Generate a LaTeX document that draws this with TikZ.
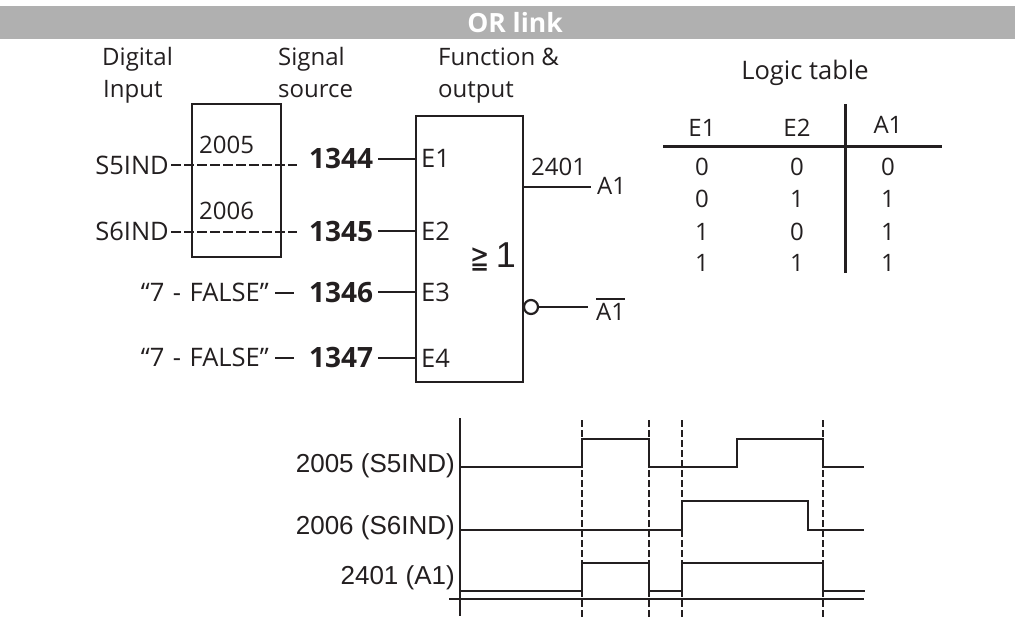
\documentclass[tikz,border=0pt]{standalone}
\usepackage{fontspec}
\setmainfont{Open Sans}
\newfontfamily\arialf{Liberation Sans}
\newfontfamily\symf{DejaVu Sans}
\definecolor{ink}{HTML}{231F20}
\tikzset{
 lbl/.style={font=\fontsize{24}{28}\selectfont,text=ink,inner sep=0pt},
 lblw/.style={font=\fontsize{25.5}{28}\selectfont,text=ink,inner sep=0pt},
 bold/.style={font=\fontsize{28}{30}\selectfont\bfseries,text=ink,inner sep=0pt},
 arl/.style={font=\fontsize{26}{28}\selectfont\arialf,text=ink,inner sep=0pt},
 wire/.style={draw=ink,line width=2.5pt},
 dash wire/.style={wire,dash pattern=on 10pt off 3pt},
 vdash/.style={draw=ink,line width=1.7pt,dash pattern=on 7pt off 3pt},
 wave/.style={draw=ink,line width=2.5pt,line join=miter},
 tabline/.style={draw=ink,line width=3pt}
}
\begin{document}
\begin{tikzpicture}[x=1pt,y=-1pt]
\useasboundingbox (0,0) rectangle (1015,618);
\fill[white] (0,0) rectangle (1015,618);
\fill[black!31] (0,6) rectangle (1015,39);
\node[font=\fontsize{26.5}{28}\selectfont\bfseries,text=white,inner sep=0pt] (title) at (515,23) {OR link};
% headers
\node[lbl,anchor=base west] (h1a) at (102,66) {Digital};
\node[lbl,anchor=base west] (h1b) at (103,98) {Input};
\node[lbl,anchor=base west] (h2a) at (278,66) {Signal};
\node[lbl,anchor=base west] (h2b) at (278,98) {source};
\node[lbl,anchor=base west] (h3a) at (438,66) {Function \&};
\node[lbl,anchor=base west] (h3b) at (438,98) {output};
% boxes
\draw[wire] (192,104) rectangle (281,257);
\draw[wire] (416,116) rectangle (523,382);
\node[lbl,anchor=west] (p1) at (199,145) {2005};
\node[lbl,anchor=west] (p2) at (199,211) {2006};
\node[lblw,anchor=east] (s5) at (169,165) {S5IND};
\node[lblw,anchor=east] (s6) at (169,231) {S6IND};
\coordinate (s5e) at (297,165);
\coordinate (s6e) at (297,232);
\draw[dash wire] (s5.east) ++(2,0) -- (s5e);
\draw[dash wire] (s6.east) ++(2,1) -- (s6e);
\node[lblw,anchor=east] (f1) at (269,292) {“7\,\,-\,\,FALSE”};
\node[lblw,anchor=east] (f2) at (269,357) {“7\,\,-\,\,FALSE”};
\node[bold] (n1) at (341,158) {1344};
\node[bold] (n2) at (341,231) {1345};
\node[bold] (n3) at (341,292) {1346};
\node[bold] (n4) at (341,357) {1347};
\coordinate (f1e) at (294,293);
\coordinate (f2e) at (294,358);
\coordinate (f1s) at (275,293);
\coordinate (f2s) at (275,358);
\draw[wire] (f1s) -- (f1e);
\draw[wire] (f2s) -- (f2e);
\coordinate (e1) at (416,159);
\coordinate (e2) at (416,231);
\coordinate (e3) at (416,292);
\coordinate (e4) at (416,358);
\draw[wire] (378,159) -- (e1);
\draw[wire] (378,231) -- (e2);
\draw[wire] (378,292) -- (e3);
\draw[wire] (378,358) -- (e4);
\node[lblw,anchor=west] (t1) at (421,158) {E1};
\node[lblw,anchor=west] (t2) at (421,231) {E2};
\node[lblw,anchor=west] (t3) at (421,292) {E3};
\node[lblw,anchor=west] (t4) at (421,358) {E4};
\node[font=\fontsize{24}{26}\selectfont\symf,text=ink,inner sep=0pt,xscale=0.95,yscale=1.35,transform shape] (ge) at (480,260) {≧};
\node[font=\fontsize{36}{38}\selectfont\arialf,text=ink,inner sep=0pt] (one) at (506,255) {1};
% outputs
\node[lbl,anchor=west] (o1) at (531,167) {2401};
\node[lbl,anchor=west] (a1) at (597,186) {A1};
\coordinate (o1s) at (523,187);
\coordinate (o1e) at (591,187);
\draw[wire] (o1s) -- (o1e);
\node[circle,draw=ink,line width=2.2pt,fill=white,minimum size=14pt,inner sep=0pt] (bub) at (531,307) {};
\coordinate (o2e) at (588,307);
\draw[wire] (bub.east) -- (o2e);
\node[lbl,anchor=west] (a2) at (596,312) {A1};
\draw[draw=ink,line width=2.2pt] (a2.west |- 0,299) -- (a2.east |- 0,299);
% table
\node[lblw] (lt) at (805,73) {Logic table};
\coordinate (hl) at (663,146);
\coordinate (hr) at (942,146);
\coordinate (vt) at (845,104);
\coordinate (vb) at (845,273);
\draw[tabline] (hl) -- (hr);
\draw[tabline] (vt) -- (vb);
\node[lbl] (c11) at (702,128) {E1};
\node[lbl] (c12) at (797,128) {E2};
\node[lbl] (c13) at (888,125) {A1};
\node[lbl] (r11) at (702,167) {0};
\node[lbl] (r12) at (797,167) {0};
\node[lbl] (r13) at (888,167) {0};
\node[lbl] (r21) at (702,199) {0};
\node[lbl] (r22) at (797,199) {1};
\node[lbl] (r23) at (888,199) {1};
\node[lbl] (r31) at (702,232) {1};
\node[lbl] (r32) at (797,232) {0};
\node[lbl] (r33) at (888,232) {1};
\node[lbl] (r41) at (702,263) {1};
\node[lbl] (r42) at (797,263) {1};
\node[lbl] (r43) at (888,263) {1};
% timing
\node[arl,anchor=east] (w1) at (455,466) {2005 (S5IND)};
\node[arl,anchor=east] (w2) at (455,528) {2006 (S6IND)};
\node[arl,anchor=east] (w3) at (455,578) {2401 (A1)};
\draw[draw=ink,line width=1.8pt] (460,418) -- (460,616);
\draw[draw=ink,line width=1.1pt] (449,599) -- (864,599);
\draw[vdash] (582,420) -- (582,618);
\draw[vdash] (649,420) -- (649,618);
\draw[vdash] (682,420) -- (682,618);
\draw[vdash] (823,420) -- (823,618);
\draw[wave] (460,467) -- (582,467) -- (582,439) -- (649,439) -- (649,467) -- (737,467) -- (737,439) -- (823,439) -- (823,467) -- (864,467);
\draw[wave] (460,530) -- (682,530) -- (682,501) -- (808,501) -- (808,530) -- (864,530);
\draw[wave] (460,591) -- (582,591) -- (582,563) -- (649,563) -- (649,591) -- (682,591) -- (682,563) -- (823,563) -- (823,591) -- (865,591);
\end{tikzpicture}
\end{document}
